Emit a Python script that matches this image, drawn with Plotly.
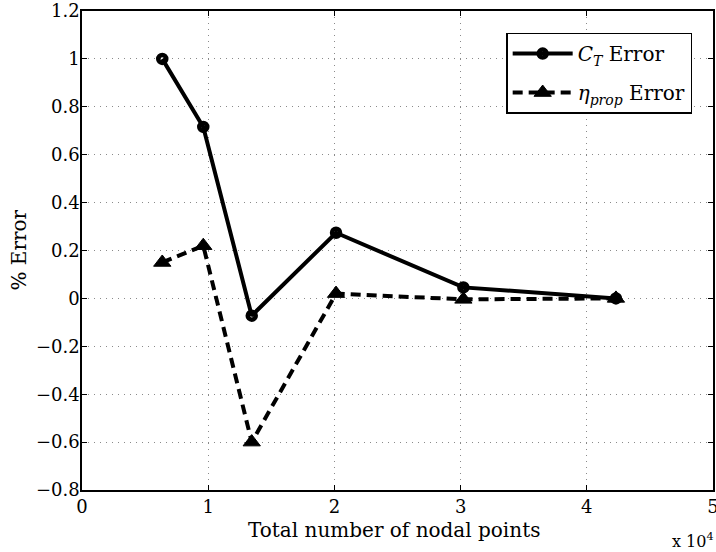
import plotly.graph_objects as go

# Mesh sizes (total number of nodal points) and percentage errors
nodal_points = [6360, 9610, 13450, 20130, 30220, 42310]
ct_error = [1.0, 0.716, -0.072, 0.274, 0.046, 0.0]
eta_error = [0.15, 0.22, -0.60, 0.02, -0.004, 0.0]

x_ticks = [0, 1, 2, 3, 4, 5]
y_ticks = [-0.8, -0.6, -0.4, -0.2, 0, 0.2, 0.4, 0.6, 0.8, 1.0, 1.2]
y_tick_text = ["\u22120.8", "\u22120.6", "\u22120.4", "\u22120.2", "0",
               "0.2", "0.4", "0.6", "0.8", "1", "1.2"]

scale = 1e4
x_scaled = [v / scale for v in nodal_points]

FONT = "DejaVu Serif"
FS = 18
FS_TEXT = 20

fig = go.Figure()
fig.add_trace(go.Scatter(
    x=x_scaled, y=ct_error, mode="lines+markers",
    name="<i>C</i><sub><i>T</i></sub> Error", legendgroup="ct",
    line=dict(color="black", width=4),
    marker=dict(symbol="circle-open", size=8, color="black",
                line=dict(color="black", width=4.5)),
))
fig.add_trace(go.Scatter(
    x=x_scaled, y=eta_error, mode="lines+markers",
    name="<i>\u03b7</i><sub><i>prop</i></sub> Error", legendgroup="eta",
    line=dict(color="black", width=4, dash="10px,6px"),
    marker=dict(symbol="triangle-up", size=15, color="black",
                line=dict(color="black", width=1)),
))

axis_common = dict(
    showline=True, linecolor="black", linewidth=1.5, mirror="ticks",
    ticks="inside", ticklen=5, tickwidth=1, tickcolor="black",
    showgrid=True, gridcolor="#8a8a8a", gridwidth=1, griddash="1px,5px",
    zeroline=False, automargin=False, ticklabeloverflow="allow",
    tickfont=dict(family=FONT, size=FS, color="black"),
)

fig.update_xaxes(range=[0, 5], tickvals=x_ticks,
                 ticktext=[str(t) for t in x_ticks], **axis_common)
fig.update_yaxes(range=[-0.8, 1.2], tickvals=y_ticks, ticktext=y_tick_text,
                 ticklabelstandoff=-3, **axis_common)

fig.update_layout(
    width=716, height=552,
    margin=dict(l=82, r=3, t=11, b=62),
    paper_bgcolor="white", plot_bgcolor="white",
    font=dict(family=FONT, size=FS, color="black"),
    showlegend=True,
    legend=dict(
        x=0.967, y=0.955, xanchor="right", yanchor="top",
        bgcolor="white", bordercolor="black", borderwidth=1.5,
        font=dict(family=FONT, size=FS_TEXT, color="black"),
        tracegroupgap=10, itemwidth=60,
    ),
    annotations=[
        dict(text="Total number of nodal points", xref="paper", yref="paper",
             x=0.5, y=0, xshift=-4, yshift=-40, xanchor="center", yanchor="middle",
             showarrow=False, font=dict(family=FONT, size=FS_TEXT)),
        dict(text="x 10<sup>4</sup>", xref="paper", yref="paper",
             x=1, y=0, xshift=3, yshift=-50, xanchor="right", yanchor="middle",
             showarrow=False, font=dict(family=FONT, size=16)),
        dict(text="% Error", xref="paper", yref="paper",
             x=0, y=0.5, xshift=-64, xanchor="center", yanchor="middle",
             textangle=-90, showarrow=False, font=dict(family=FONT, size=FS_TEXT)),
    ],
)

fig.write_html("out.html")
